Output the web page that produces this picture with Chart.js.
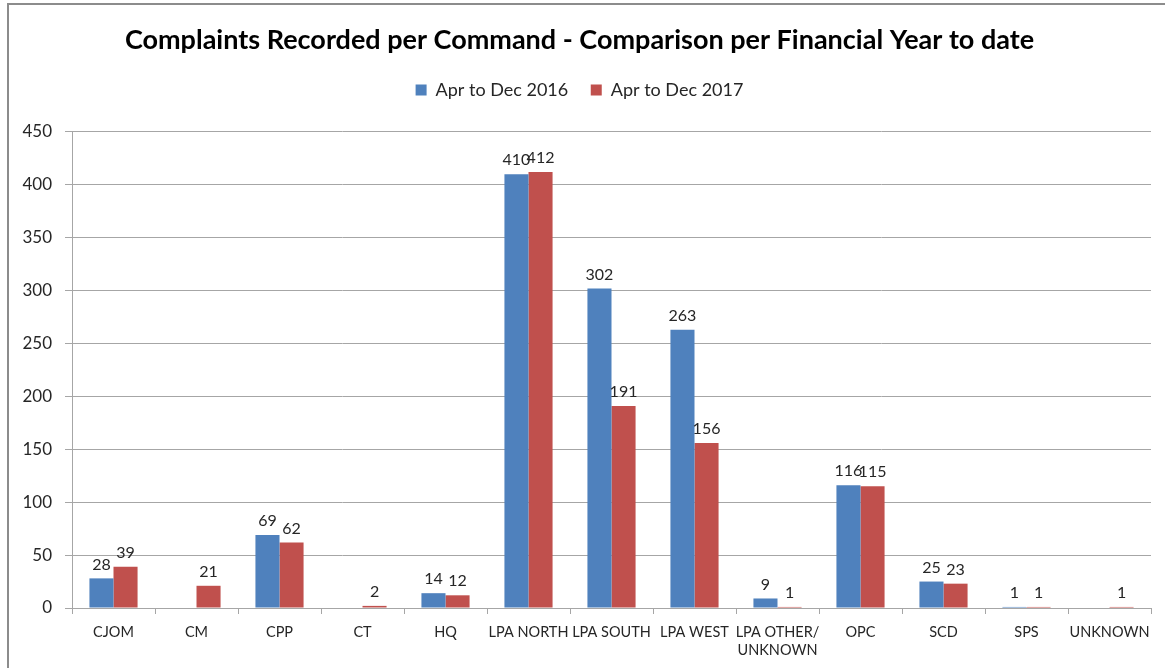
<!DOCTYPE html>
<html>
<head>
<meta charset="utf-8">
<script src="https://cdn.jsdelivr.net/npm/chart.js@4.4.0/dist/chart.umd.min.js"></script>
<style>
  html, body { margin: 0; padding: 0; background: #ffffff; overflow: hidden; }
  #wrap { position: relative; width: 1165px; height: 668px; }
  #frame { position: absolute; left: 7px; top: 3px; width: 1200px; height: 700px; border-left: 2px solid #8c8c8c; border-top: 2px solid #8c8c8c; box-sizing: border-box; }
  canvas { position: absolute; left: 0; top: 0; }
</style>
</head>
<body>
<div id="wrap">
  <div id="frame"></div>
  <canvas id="c" width="1165" height="668"></canvas>
</div>
<script>
const categories = ["CJOM", "CM", "CPP", "CT", "HQ", "LPA NORTH", "LPA SOUTH", "LPA WEST", ["LPA OTHER/", "UNKNOWN"], "OPC", "SCD", "SPS", "UNKNOWN"];
const series2016 = [28, null, 69, null, 14, 410, 302, 263, 9, 116, 25, 1, null];
const series2017 = [39, 21, 62, 2, 12, 412, 191, 156, 1, 115, 23, 1, 1];
const seriesNames = ["Apr to Dec 2016", "Apr to Dec 2017"];
const yTicks = [0, 50, 100, 150, 200, 250, 300, 350, 400, 450];
const titleText = "Complaints Recorded per Command - Comparison per Financial Year to date";

const FONT = "Lato, 'Open Sans', sans-serif";

const dataLabels = {
  id: 'dataLabels',
  afterDatasetsDraw(chart) {
    const ctx = chart.ctx;
    ctx.save();
    ctx.font = "16px " + FONT;
    ctx.fillStyle = "#262626";
    ctx.textAlign = "center";
    ctx.textBaseline = "bottom";
    chart.data.datasets.forEach((ds, i) => {
      const meta = chart.getDatasetMeta(i);
      meta.data.forEach((el, j) => {
        const v = ds.data[j];
        if (v === null || v === undefined) return;
        ctx.fillText(String(v), el.x, el.y - 6);
      });
    });
    ctx.restore();
  }
};

// extra gap below the legend so the plot area starts lower
const legendGap = {
  id: 'legendGap',
  afterInit(chart) {
    const lg = chart.legend;
    if (lg && !lg._gapPatched) {
      const orig = lg.fit.bind(lg);
      lg.fit = function () { orig(); this.height += 23; };
      lg._gapPatched = true;
    }
  }
};

new Chart(document.getElementById('c'), {
  type: 'bar',
  data: {
    labels: categories,
    datasets: [
      { label: seriesNames[0], data: series2016, backgroundColor: '#4f81bd', borderWidth: 0, categoryPercentage: 0.58, barPercentage: 1.0 },
      { label: seriesNames[1], data: series2017, backgroundColor: '#c0504d', borderWidth: 0, categoryPercentage: 0.58, barPercentage: 1.0 }
    ]
  },
  options: {
    responsive: false,
    animation: false,
    devicePixelRatio: 1,
    layout: { padding: { left: 8, right: 14, top: 0, bottom: 0 } },
    plugins: {
      title: {
        display: true,
        text: titleText,
        color: '#000000',
        font: { family: FONT, size: 27, weight: 'bold', lineHeight: 1.2 },
        padding: { top: 24, bottom: 2 }
      },
      legend: {
        display: true,
        position: 'top',
        labels: {
          color: '#262626',
          font: { family: FONT, size: 18 },
          boxWidth: 11,
          boxHeight: 11,
          padding: 22.5
        }
      },
      tooltip: { enabled: false }
    },
    scales: {
      x: {
        grid: { display: true, drawOnChartArea: false, drawTicks: true, tickLength: 6, color: '#a6a6a6', offset: true },
        border: { display: true, color: '#a6a6a6', width: 1 },
        ticks: { color: '#262626', font: { family: FONT, size: 14.5, lineHeight: 1.25 }, padding: 9, maxRotation: 0, autoSkip: false },
        afterFit(scale) { scale.height = 60; }
      },
      y: {
        min: 0,
        max: 450,
        afterBuildTicks(scale) { scale.ticks = yTicks.map(v => ({ value: v })); },
        grid: { color: '#a6a6a6', lineWidth: 1, tickLength: 7, drawTicks: true },
        border: { display: true, color: '#a6a6a6', width: 1 },
        ticks: { color: '#262626', font: { family: FONT, size: 17 }, padding: 13 },
        afterFit(scale) { scale.width = 64; }
      }
    }
  },
  plugins: [dataLabels, legendGap]
});
</script>
</body>
</html>
